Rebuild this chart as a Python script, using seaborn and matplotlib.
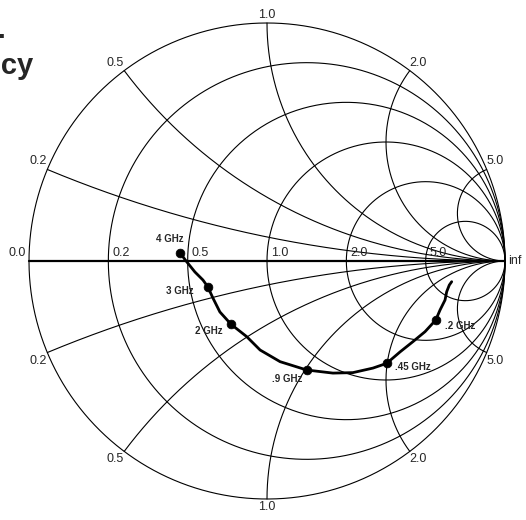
import numpy as np
import pandas as pd
import seaborn as sns
import matplotlib.pyplot as plt

# grid values of the Smith chart
r_values = [0.2, 0.5, 1.0, 2.0, 5.0]
x_values = [0.2, 0.5, 1.0, 2.0, 5.0]
grid_labels = ["0.2", "0.5", "1.0", "2.0", "5.0"]

curve_re = [-0.366, -0.340, -0.303, -0.269, -0.249, -0.227, -0.198, -0.151, -0.085,
            -0.029, 0.055, 0.167, 0.277, 0.361, 0.445, 0.503, 0.559, 0.613, 0.664,
            0.709, 0.727, 0.748, 0.755, 0.766, 0.776]
curve_im = [0.035, 0.000, -0.046, -0.080, -0.108, -0.156, -0.214, -0.266, -0.318,
            -0.374, -0.423, -0.458, -0.471, -0.469, -0.450, -0.430, -0.382, -0.339,
            -0.297, -0.248, -0.206, -0.164, -0.129, -0.101, -0.087]

freq_labels = ["4 GHz", "3 GHz", "2 GHz", ".9 GHz", ".45 GHz", ".2 GHz"]
freq_re = [-0.366, -0.249, -0.151, 0.167, 0.503, 0.709]
freq_im = [0.035, -0.108, -0.266, -0.458, -0.430, -0.248]
# label offsets in pixels (dx, dy)
label_offsets = [(-10, 14), (-28, -4), (-22, -7), (-20, -9), (26, -4), (24, -6)]

W, H = 526, 520
cx, cy, R = 267, 261, 238

sns.set_style("white")
plt.rcParams["font.family"] = ["Liberation Sans", "DejaVu Sans"]

fig = plt.figure(figsize=(W / 100, H / 100), dpi=100)
ax = fig.add_axes([0, 0, 1, 1])
ax.set_xlim(-cx / R, (W - cx) / R)
ax.set_ylim(-(H - cy) / R, cy / R)
ax.set_aspect("equal")
ax.axis("off")

lw = 0.8
t = np.linspace(0, 2 * np.pi, 600)
# outer circle (r = 0)
ax.plot(np.cos(t), np.sin(t), color="black", lw=lw)

# constant resistance circles
for r, lab in zip(r_values, grid_labels):
    c0, rad = r / (1 + r), 1 / (1 + r)
    ax.plot(c0 + rad * np.cos(t), rad * np.sin(t), color="black", lw=lw)
    ax.annotate(lab, ((r - 1) / (r + 1), 0), xytext=(4, 2), textcoords="offset pixels",
                ha="left", va="bottom", fontsize=9)

# constant reactance arcs
rr = np.concatenate([[0], np.logspace(-3, 5, 800)])
for xv, lab in zip(x_values, grid_labels):
    for s in (1, -1):
        z = rr + 1j * s * xv
        g = (z - 1) / (z + 1)
        ax.plot(g.real, g.imag, color="black", lw=lw)
        g0 = (1j * s * xv - 1) / (1j * s * xv + 1)
        if abs(g0.real) < 0.05:
            ha = "center"
        elif g0.real < 0:
            ha = "right"
        else:
            ha = "left"
        va = "bottom" if s > 0 else "top"
        ax.annotate(lab, (g0.real, g0.imag), xytext=(0, 2 * s), textcoords="offset pixels",
                    ha=ha, va=va, fontsize=9)

# real axis
ax.plot([-1, 1], [0, 0], color="black", lw=1.6)
ax.annotate("0.0", (-1, 0), xytext=(-3, 2), textcoords="offset pixels",
            ha="right", va="bottom", fontsize=9)
ax.annotate("inf", (1, 0), xytext=(3, 0), textcoords="offset pixels",
            ha="left", va="center", fontsize=9)

# measured data
df = pd.DataFrame({"re": curve_re, "im": curve_im})
sns.lineplot(data=df, x="re", y="im", sort=False, estimator=None, color="black",
             lw=2, ax=ax)
mk = pd.DataFrame({"re": freq_re, "im": freq_im, "f": freq_labels})
sns.scatterplot(data=mk, x="re", y="im", color="black", s=40, edgecolor="black",
                linewidth=0.5, ax=ax, zorder=5)
for (lab, xr, yi), (dx, dy) in zip(zip(freq_labels, freq_re, freq_im), label_offsets):
    ax.annotate(lab, (xr, yi), xytext=(dx, dy), textcoords="offset pixels",
                ha="center", va="center", fontsize=7, fontweight="bold")

ax.set_xlabel("")
ax.set_ylabel("")

# title, mostly cut off at the left edge (as in the original)
fig.text(6 / W, 1 - 38 / H, "S11 vs.", ha="right", va="baseline",
         fontsize=21, fontweight="bold")
fig.text(33 / W, 1 - 74 / H, "Frequency", ha="right", va="baseline",
         fontsize=21, fontweight="bold")

fig.savefig("out.png", dpi=100)
